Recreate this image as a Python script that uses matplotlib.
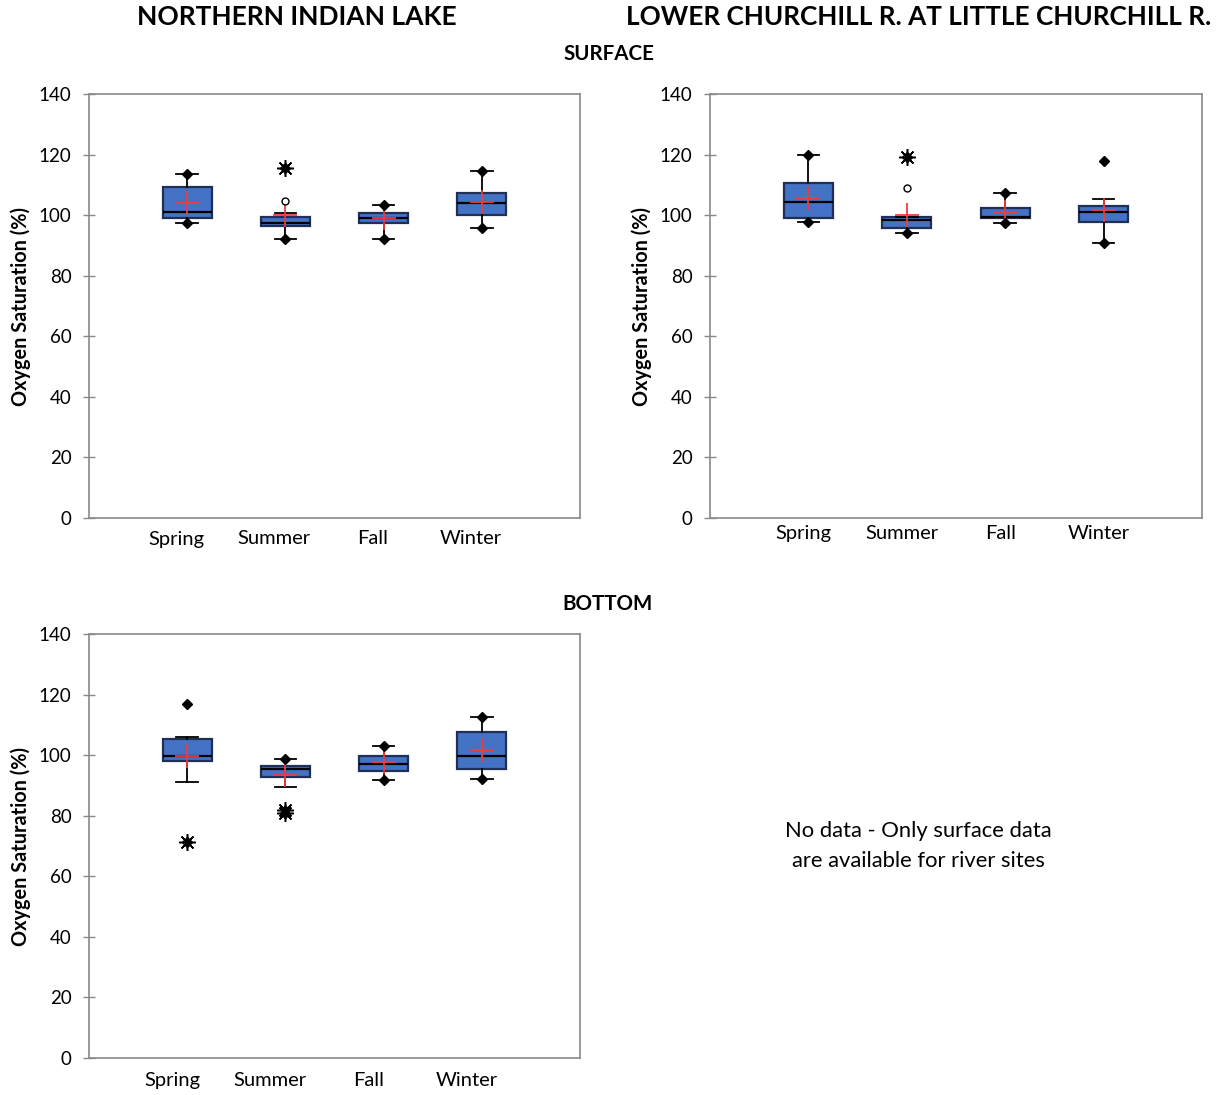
import matplotlib
matplotlib.use("Agg")
import matplotlib.pyplot as plt
import matplotlib.transforms as mtransforms

plt.rcParams['font.family'] = ['Lato', 'DejaVu Sans']

seasons = ["Spring", "Summer", "Fall", "Winter"]

# ---- Northern Indian Lake, surface ----
nil_s_q1 = [99.0, 96.4, 97.4, 99.9]
nil_s_med = [101.1, 97.5, 99.0, 103.9]
nil_s_q3 = [109.2, 99.5, 100.6, 107.4]
nil_s_wlo = [97.4, 92.0, 92.0, 95.8]
nil_s_whi = [113.5, 100.6, 103.3, 114.7]
nil_s_mean = [103.9, 99.9, 99.0, 104.2]
nil_s_min = [97.4, 92.0, 92.0, 95.8]
nil_s_max = [113.5, 115.7, 103.3, 114.7]
nil_s_mild = [[], [104.7], [], []]
nil_s_ext = [[], [115.7], [], []]

# ---- Lower Churchill R., surface ----
lcr_s_q1 = [98.9, 95.6, 98.9, 97.8]
lcr_s_med = [104.3, 98.4, 99.5, 101.1]
lcr_s_q3 = [110.7, 99.5, 102.2, 103.1]
lcr_s_wlo = [97.8, 94.2, 97.3, 90.9]
lcr_s_whi = [119.8, 99.5, 107.2, 105.3]
lcr_s_mean = [105.5, 100.0, 101.1, 101.7]
lcr_s_min = [97.8, 94.2, 97.3, 90.9]
lcr_s_max = [119.8, 119.3, 107.2, 117.9]
lcr_s_mild = [[], [108.8], [], []]
lcr_s_ext = [[], [119.3], [], []]

# ---- Northern Indian Lake, bottom ----
nil_b_q1 = [98.1, 92.7, 94.9, 95.3]
nil_b_med = [99.6, 95.4, 97.1, 99.6]
nil_b_q3 = [105.4, 96.4, 99.6, 107.7]
nil_b_wlo = [91.1, 89.5, 91.7, 92.0]
nil_b_whi = [106.0, 98.6, 103.1, 112.7]
nil_b_mean = [99.8, 93.3, 97.7, 101.6]
nil_b_min = [71.4, 80.8, 91.7, 92.0]
nil_b_max = [116.9, 98.6, 103.1, 112.7]
nil_b_mild = [[], [], [], []]
nil_b_ext = [[71.4], [81.9, 80.8], [], []]

y_ticks = [0, 20, 40, 60, 80, 100, 120, 140]

BOX_FACE = "#4472C4"
BOX_EDGE = "#1F2F55"
GRID_GRAY = "#898989"

W, H = 1221, 1095
fig = plt.figure(figsize=(W / 100, H / 100), dpi=100)


def make_ax(x0, y0, x1, y1):
    return fig.add_axes([x0 / W, 1 - y1 / H, (x1 - x0) / W, (y1 - y0) / H])


def draw_panel(ax, q1, med, q3, wlo, whi, mean, mn, mx, mild, ext, label_shift, xpad):
    positions = [1, 2, 3, 4]
    stats = []
    for i in range(4):
        stats.append(dict(med=med[i], q1=q1[i], q3=q3[i], whislo=wlo[i],
                          whishi=whi[i], fliers=[], mean=mean[i], label=seasons[i]))
    ax.bxp(stats, positions=positions, widths=0.5, patch_artist=True,
           showmeans=False, showfliers=False,
           boxprops=dict(facecolor=BOX_FACE, edgecolor=BOX_EDGE, linewidth=1.6),
           medianprops=dict(color="black", linewidth=1.6),
           whiskerprops=dict(color="black", linewidth=1.3),
           capprops=dict(color="black", linewidth=1.3),
           capwidths=0.22)
    for i, p in enumerate(positions):
        ax.plot([p], [mean[i]], marker="+", color="#F03C3C", markersize=17,
                markeredgewidth=1.3, zorder=5, linestyle="none")
        ax.plot([p, p], [mn[i], mx[i]], marker="D", color="black",
                markersize=5, linestyle="none", zorder=6)
        for v in mild[i]:
            ax.plot([p], [v], marker="o", markerfacecolor="white",
                    markeredgecolor="black", markersize=5, markeredgewidth=1.0,
                    linestyle="none", zorder=6)
        for v in ext[i]:
            ax.plot([p], [v], marker=(8, 2, 0), color="black", markersize=12,
                    markeredgewidth=1.1, linestyle="none", zorder=6)
            ax.plot([p], [v], marker="o", color="black", markersize=5,
                    linestyle="none", zorder=6)
    ax.set_xlim(0, 5)
    ax.set_ylim(0, 140)
    ax.set_yticks(y_ticks)
    ax.set_xticks(positions)
    ax.set_xticklabels(seasons)
    for s in ax.spines.values():
        s.set_color(GRID_GRAY)
        s.set_linewidth(1.2)
    ax.tick_params(axis="y", direction="inout", length=9, width=1.0,
                   color=GRID_GRAY, labelsize=13.5, pad=8)
    ax.tick_params(axis="x", length=0, labelsize=14.5, pad=xpad)
    off = mtransforms.ScaledTranslation(label_shift / 100, 0, fig.dpi_scale_trans)
    for lab in ax.get_xticklabels():
        lab.set_transform(lab.get_transform() + off)
    ax.set_ylabel("Oxygen Saturation (%)", fontsize=14.3, fontweight="bold", labelpad=6)


ax1 = make_ax(89, 94, 580, 518)
draw_panel(ax1, nil_s_q1, nil_s_med, nil_s_q3, nil_s_wlo, nil_s_whi, nil_s_mean,
           nil_s_min, nil_s_max, nil_s_mild, nil_s_ext, -11, 9)

ax2 = make_ax(710, 94, 1202, 518)
draw_panel(ax2, lcr_s_q1, lcr_s_med, lcr_s_q3, lcr_s_wlo, lcr_s_whi, lcr_s_mean,
           lcr_s_min, lcr_s_max, lcr_s_mild, lcr_s_ext, -5, 5)

ax3 = make_ax(89, 634, 580, 1058)
draw_panel(ax3, nil_b_q1, nil_b_med, nil_b_q3, nil_b_wlo, nil_b_whi, nil_b_mean,
           nil_b_min, nil_b_max, nil_b_mild, nil_b_ext, -15, 10)

fig.text(297 / W, 1 - 17 / H, "NORTHERN INDIAN LAKE", ha="center", va="center",
         fontsize=19, fontweight="bold")
fig.text(919 / W, 1 - 17 / H, "LOWER CHURCHILL R. AT LITTLE CHURCHILL R.", ha="center",
         va="center", fontsize=18.8, fontweight="bold")
fig.text(609 / W, 1 - 54 / H, "SURFACE", ha="center", va="center",
         fontsize=14.8, fontweight="bold")
fig.text(608 / W, 1 - 604 / H, "BOTTOM", ha="center", va="center",
         fontsize=14.8, fontweight="bold")
fig.text(918 / W, 1 - 846 / H, "No data - Only surface data\nare available for river sites",
         ha="center", va="center", fontsize=15.8, linespacing=1.57)

fig.savefig("out.png", dpi=100)
